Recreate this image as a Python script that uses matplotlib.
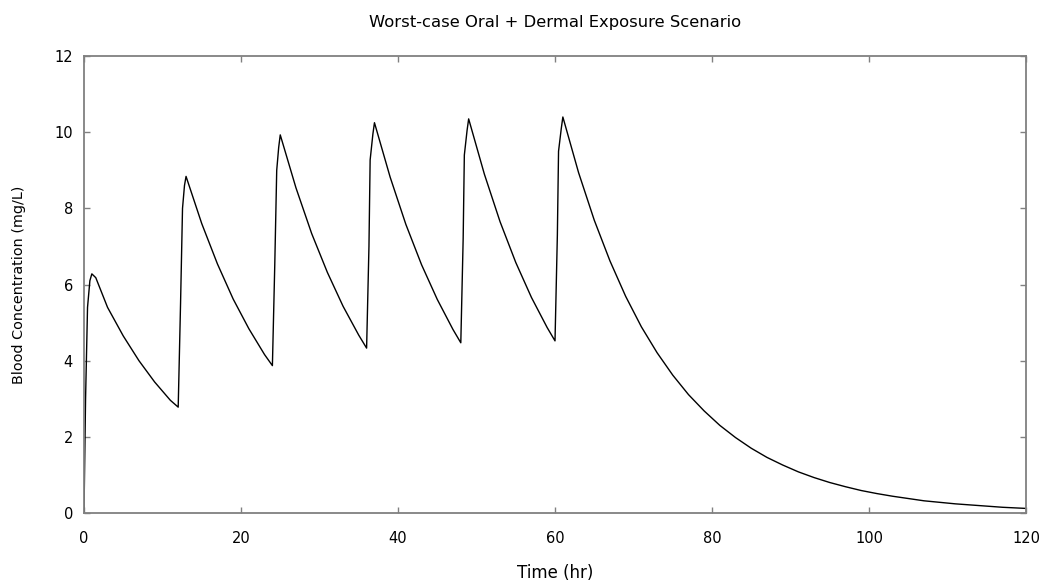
import matplotlib
matplotlib.use('Agg')

import matplotlib.pyplot as plt

# Tempo (h) e concentracao no sangue (mg/L)
tempo = [
    0, 0.2, 0.45, 0.75, 1.0, 1.5, 3, 5, 7, 9, 11,
    12, 12.3, 12.55, 12.8, 13.0, 15, 17, 19, 21, 23,
    24, 24.3, 24.55, 24.8, 25.0, 27, 29, 31, 33, 35,
    36, 36.3, 36.45, 36.8, 37.0, 39, 41, 43, 45, 47,
    48, 48.3, 48.45, 48.8, 49.0, 51, 53, 55, 57, 59,
    60, 60.3, 60.45, 60.8, 61.0, 63, 65, 67, 69, 71, 73, 75, 77, 79,
    81, 83, 85, 87, 89, 91, 93, 95, 97, 99, 101, 103, 105, 107, 109,
    111, 113, 115, 117, 119, 120,
]
concentracao = [
    0, 3.0, 5.4, 6.1, 6.28, 6.18, 5.40, 4.65, 4.00, 3.44, 2.96,
    2.78, 5.5, 8.0, 8.6, 8.84, 7.60, 6.54, 5.62, 4.84, 4.16,
    3.87, 6.5, 9.0, 9.6, 9.93, 8.54, 7.34, 6.32, 5.43, 4.67,
    4.33, 7.0, 9.27, 9.95, 10.25, 8.82, 7.58, 6.52, 5.61, 4.82,
    4.47, 7.2, 9.4, 10.05, 10.35, 8.90, 7.65, 6.58, 5.66, 4.87,
    4.52, 7.3, 9.5, 10.1, 10.40, 8.94, 7.69, 6.62, 5.69, 4.89, 4.21, 3.62, 3.11, 2.68,
    2.30, 1.98, 1.70, 1.46, 1.26, 1.08, 0.93, 0.80, 0.69, 0.59, 0.51, 0.44, 0.38, 0.32, 0.28,
    0.24, 0.21, 0.18, 0.15, 0.13, 0.12,
]

xticks = [0, 20, 40, 60, 80, 100, 120]
yticks = [0, 2, 4, 6, 8, 10, 12]

plt.rcParams['font.family'] = 'DejaVu Sans'

fig = plt.figure(figsize=(10.46, 5.84), dpi=100)
ax = fig.add_axes([0.0803, 0.1216, 0.9006, 0.7824])

ax.plot(tempo, concentracao, color='black', linewidth=1.0)

ax.set_xlim(0, 120)
ax.set_ylim(0, 12)
ax.set_xticks(xticks)
ax.set_yticks(yticks)
ax.tick_params(direction='in', length=4, width=1, color='#808080',
               top=True, right=True, labelsize=10.5)
ax.tick_params(axis='x', pad=13)
ax.tick_params(axis='y', pad=8)

for lado in ax.spines.values():
    lado.set_color('#808080')
    lado.set_linewidth(1.3)

ax.set_title("Worst-case Oral + Dermal Exposure Scenario", fontsize=11.8, pad=21)
ax.set_xlabel("Time (hr)", fontsize=12, labelpad=13)
ax.set_ylabel("Blood Concentration (mg/L)", fontsize=10.4, labelpad=20)

plt.savefig("out.png", dpi=100)
plt.close()
